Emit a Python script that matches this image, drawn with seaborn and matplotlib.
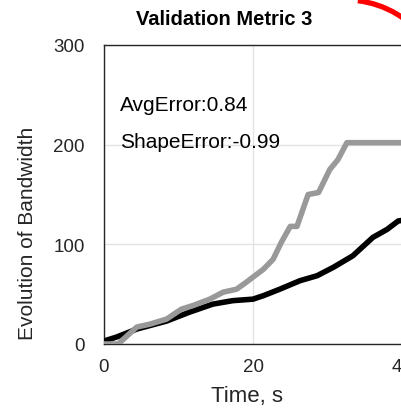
import matplotlib
matplotlib.use("Agg")
import matplotlib.pyplot as plt
from matplotlib.patches import Arc
import seaborn as sns
import pandas as pd

# ---- data ----
sim_time = [0.0, 1.7, 4.4, 8.4, 11.5, 14.6, 17.3, 20.0, 21.4, 23.6, 26.3, 28.6, 30.8, 33.4, 36.1, 38.0, 39.5, 40.0]
sim_value = [3, 7, 15, 23, 32, 40, 43.5, 45, 48.5, 55, 63.5, 68.5, 77, 88.5, 107, 115, 123.5, 124]

ref_time = [0.0, 1.9, 4.4, 6.2, 8.4, 10.4, 11.9, 14.2, 16.0, 17.8, 19.1, 21.4, 22.7, 23.8, 25.0, 25.9, 27.4, 28.8, 30.3, 31.4, 32.6, 40.0]
ref_value = [0, 0, 17, 20, 25, 35, 38.5, 45, 52, 55, 62, 75, 85, 102, 118, 118, 150, 152, 175, 185, 202, 202]

title = "Validation Metric 3"
xlabel = "Time, s"
ylabel = "Evolution of Bandwidth"
avg_error = "AvgError:0.84"
shape_error = "ShapeError:-0.99"
xticks = [0, 20, 40]
yticks = [0, 100, 200, 300]

sim_df = pd.DataFrame({"t": sim_time, "v": sim_value})
ref_df = pd.DataFrame({"t": ref_time, "v": ref_value})

sns.set_theme(style="white")
plt.rcParams["font.family"] = ["Liberation Sans", "DejaVu Sans"]

fig = plt.figure(figsize=(4.02, 4.10), dpi=100)
ax = fig.add_axes([104 / 402, 65 / 410, 298 / 402, 299 / 410])

sns.lineplot(data=sim_df, x="t", y="v", ax=ax, color="black", linewidth=4.0,
             sort=False, estimator=None, zorder=3)
sns.lineplot(data=ref_df, x="t", y="v", ax=ax, color="#999999", linewidth=4.0,
             sort=False, estimator=None, zorder=4)

ax.set_xlim(0, 40)
ax.set_ylim(0, 300)
ax.set_xticks(xticks)
ax.set_yticks(yticks)
ax.grid(True, color="#e3e3e3", linewidth=1.0, zorder=0)
ax.set_axisbelow(True)
for s in ax.spines.values():
    s.set_color("#262626")
    s.set_linewidth(1.0)
    s.set_visible(True)

ax.tick_params(axis="both", direction="in", length=3, width=0.8, color="#262626",
               labelsize=13.5, labelcolor="#262626")
ax.tick_params(axis="x", pad=10)
ax.tick_params(axis="y", pad=14)

ax.set_xlabel(xlabel, fontsize=16, color="#262626")
ax.set_ylabel(ylabel, fontsize=15, color="#262626")
ax.xaxis.set_label_coords(0.4815, -0.138)
ax.yaxis.set_label_coords(-0.225, 0.375)

ax.text(2.15, 240, avg_error, fontsize=15, color="black", va="center", ha="left", zorder=5)
ax.text(2.2, 203, shape_error, fontsize=15, color="black", va="center", ha="left", zorder=5)

fig.text(224 / 402, (410 - 25) / 410, title, fontsize=14.5, fontweight="bold",
         ha="center", va="baseline", color="black")

arc = Arc((346 / 402, 310 / 410), 198 / 402, 198 / 410, theta1=35, theta2=83,
          transform=fig.transFigure, color="red", linewidth=3.8, clip_on=False)
fig.add_artist(arc)

fig.savefig("out.png", dpi=100)
